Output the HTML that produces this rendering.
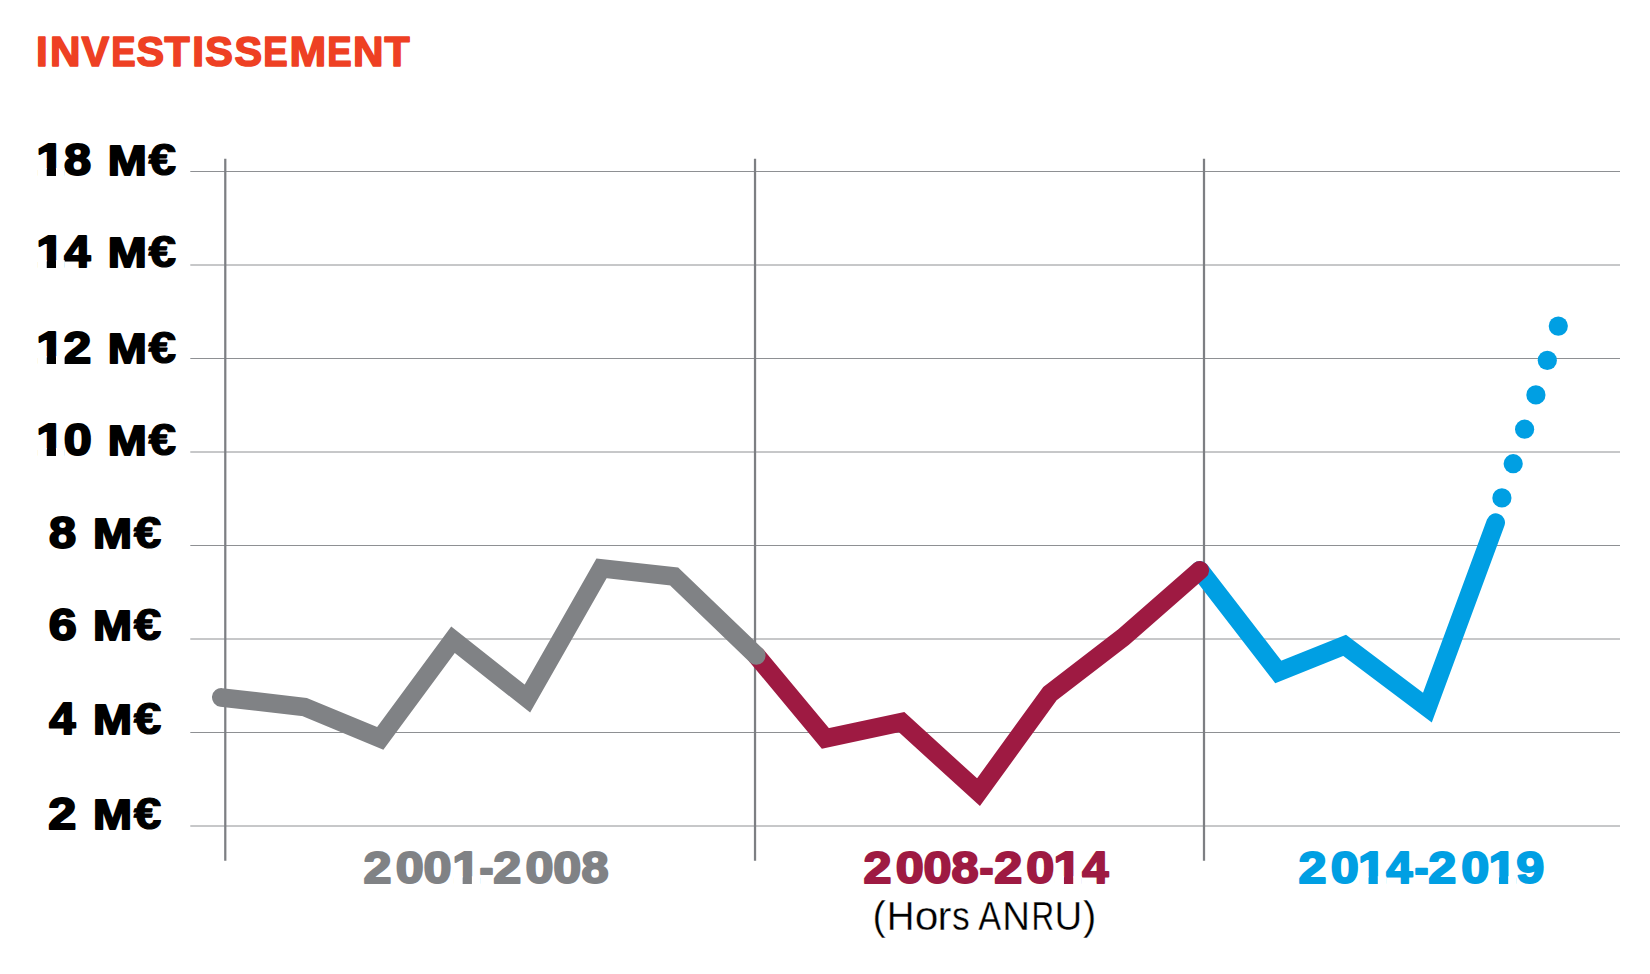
<!DOCTYPE html>
<html lang="fr">
<head>
<meta charset="utf-8">
<title>Investissement</title>
<style>
html,body{margin:0;padding:0;background:#fff;}
body{width:1650px;height:974px;overflow:hidden;font-family:"Liberation Sans",sans-serif;}
svg{display:block;}
text{font-family:"Liberation Sans",sans-serif;}
</style>
</head>
<body>
<svg width="1650" height="974" viewBox="0 0 1650 974">
<rect width="1650" height="974" fill="#ffffff"/>
<g stroke="#8e9093" stroke-width="1">
<line x1="190.3" y1="171.50" x2="1620" y2="171.50"/>
<line x1="190.3" y1="265.00" x2="1620" y2="265.00"/>
<line x1="190.3" y1="358.50" x2="1620" y2="358.50"/>
<line x1="190.3" y1="452.00" x2="1620" y2="452.00"/>
<line x1="190.3" y1="545.50" x2="1620" y2="545.50"/>
<line x1="190.3" y1="639.00" x2="1620" y2="639.00"/>
<line x1="190.3" y1="732.50" x2="1620" y2="732.50"/>
<line x1="190.3" y1="826.00" x2="1620" y2="826.00"/>
</g>
<g stroke="#7d7f83" stroke-width="2.25">
<line x1="225.28" y1="158.8" x2="225.28" y2="860.8"/>
<line x1="755.03" y1="158.8" x2="755.03" y2="860.8"/>
<line x1="1204.0" y1="158.8" x2="1204.0" y2="860.8"/>
</g>
<text transform="translate(0,66.15) scale(1.0,1)" x="36.08 50.00 81.53 111.25 136.38 164.47 192.22 205.32 234.38 263.20 289.50 327.25 353.00 384.38" y="0" font-size="42.2" font-weight="bold" fill="#ee4023" stroke="#ee4023" stroke-width="1.6" stroke-linejoin="round">IN<tspan textLength="27.66" lengthAdjust="spacingAndGlyphs">V</tspan><tspan textLength="24.37" lengthAdjust="spacingAndGlyphs">E</tspan><tspan textLength="27.63" lengthAdjust="spacingAndGlyphs">S</tspan><tspan textLength="25.16" lengthAdjust="spacingAndGlyphs">T</tspan>I<tspan textLength="27.63" lengthAdjust="spacingAndGlyphs">S</tspan><tspan textLength="27.63" lengthAdjust="spacingAndGlyphs">S</tspan><tspan textLength="24.37" lengthAdjust="spacingAndGlyphs">E</tspan><tspan textLength="36.70" lengthAdjust="spacingAndGlyphs">M</tspan><tspan textLength="24.37" lengthAdjust="spacingAndGlyphs">E</tspan>N<tspan textLength="25.16" lengthAdjust="spacingAndGlyphs">T</tspan></text>
<text transform="translate(0,174.90) scale(1.145,1)" x="31.66 55.79" y="0" font-size="44.0" font-weight="bold" fill="#000" stroke="#000" stroke-width="2.0" stroke-linejoin="round">1<tspan textLength="23.66" lengthAdjust="spacingAndGlyphs">8</tspan></text>
<text transform="translate(0,174.60) scale(1.08,1)" x="99.86 137.59" y="0" font-size="43.4" font-weight="bold" fill="#000" stroke="#000" stroke-width="2.0" stroke-linejoin="round">M<tspan font-size="44.8" stroke-width="1.2" textLength="25.59" lengthAdjust="spacingAndGlyphs">€</tspan></text>
<text transform="translate(0,266.90) scale(1.145,1)" x="31.66 56.09" y="0" font-size="44.0" font-weight="bold" fill="#000" stroke="#000" stroke-width="2.0" stroke-linejoin="round">1<tspan textLength="22.87" lengthAdjust="spacingAndGlyphs">4</tspan></text>
<text transform="translate(0,266.60) scale(1.08,1)" x="99.86 137.59" y="0" font-size="43.4" font-weight="bold" fill="#000" stroke="#000" stroke-width="2.0" stroke-linejoin="round">M<tspan font-size="44.8" stroke-width="1.2" textLength="25.59" lengthAdjust="spacingAndGlyphs">€</tspan></text>
<text transform="translate(0,362.90) scale(1.145,1)" x="31.66 55.22" y="0" font-size="44.0" font-weight="bold" fill="#000" stroke="#000" stroke-width="2.0" stroke-linejoin="round">12</text>
<text transform="translate(0,362.60) scale(1.08,1)" x="99.86 137.59" y="0" font-size="43.4" font-weight="bold" fill="#000" stroke="#000" stroke-width="2.0" stroke-linejoin="round">M<tspan font-size="44.8" stroke-width="1.2" textLength="25.59" lengthAdjust="spacingAndGlyphs">€</tspan></text>
<text transform="translate(0,454.90) scale(1.145,1)" x="31.66 55.57" y="0" font-size="44.0" font-weight="bold" fill="#000" stroke="#000" stroke-width="2.0" stroke-linejoin="round">10</text>
<text transform="translate(0,454.60) scale(1.08,1)" x="99.86 137.59" y="0" font-size="43.4" font-weight="bold" fill="#000" stroke="#000" stroke-width="2.0" stroke-linejoin="round">M<tspan font-size="44.8" stroke-width="1.2" textLength="25.59" lengthAdjust="spacingAndGlyphs">€</tspan></text>
<text transform="translate(0,548.00) scale(1.145,1)" x="42.82" y="0" font-size="44.0" font-weight="bold" fill="#000" stroke="#000" stroke-width="2.0" stroke-linejoin="round"><tspan textLength="23.66" lengthAdjust="spacingAndGlyphs">8</tspan></text>
<text transform="translate(0,547.70) scale(1.08,1)" x="86.06 123.84" y="0" font-size="43.4" font-weight="bold" fill="#000" stroke="#000" stroke-width="2.0" stroke-linejoin="round">M<tspan font-size="44.8" stroke-width="1.2" textLength="25.59" lengthAdjust="spacingAndGlyphs">€</tspan></text>
<text transform="translate(0,640.00) scale(1.145,1)" x="42.49" y="0" font-size="44.0" font-weight="bold" fill="#000" stroke="#000" stroke-width="2.0" stroke-linejoin="round">6</text>
<text transform="translate(0,639.70) scale(1.08,1)" x="86.06 123.84" y="0" font-size="43.4" font-weight="bold" fill="#000" stroke="#000" stroke-width="2.0" stroke-linejoin="round">M<tspan font-size="44.8" stroke-width="1.2" textLength="25.59" lengthAdjust="spacingAndGlyphs">€</tspan></text>
<text transform="translate(0,734.00) scale(1.145,1)" x="42.99" y="0" font-size="44.0" font-weight="bold" fill="#000" stroke="#000" stroke-width="2.0" stroke-linejoin="round"><tspan textLength="22.87" lengthAdjust="spacingAndGlyphs">4</tspan></text>
<text transform="translate(0,733.70) scale(1.08,1)" x="86.06 123.84" y="0" font-size="43.4" font-weight="bold" fill="#000" stroke="#000" stroke-width="2.0" stroke-linejoin="round">M<tspan font-size="44.8" stroke-width="1.2" textLength="25.59" lengthAdjust="spacingAndGlyphs">€</tspan></text>
<text transform="translate(0,828.90) scale(1.145,1)" x="42.21" y="0" font-size="44.0" font-weight="bold" fill="#000" stroke="#000" stroke-width="2.0" stroke-linejoin="round">2</text>
<text transform="translate(0,828.60) scale(1.08,1)" x="86.06 123.84" y="0" font-size="43.4" font-weight="bold" fill="#000" stroke="#000" stroke-width="2.0" stroke-linejoin="round">M<tspan font-size="44.8" stroke-width="1.2" textLength="25.59" lengthAdjust="spacingAndGlyphs">€</tspan></text>
<g fill="none" stroke-width="18.6" stroke-linecap="round" stroke-linejoin="miter" stroke-miterlimit="10">
<path d="M1199.8 570.3 L1278.3 671.9 L1344.6 645.3 L1427.4 707.6 L1495.7 522.6" stroke="#009fe3"/>
<path d="M756.3 655.5 L825.4 738.4 L901.6 722.2 L978.5 792.2 L1050 693.5 L1123 637.5 L1199.8 570.3" stroke="#9e1a42"/>
<path d="M221.3 697.4 L304.5 707 L380.2 738.4 L453 639.8 L527.4 698.6 L601.5 568.3 L674 576.4 L756.3 655.5" stroke="#808285"/>
</g>
<g fill="#009fe3">
<circle cx="1501.9" cy="497.9" r="9.6"/>
<circle cx="1513.2" cy="463.7" r="9.6"/>
<circle cx="1524.6" cy="429.2" r="9.6"/>
<circle cx="1535.9" cy="394.9" r="9.6"/>
<circle cx="1547.3" cy="360.4" r="9.6"/>
<circle cx="1558.3" cy="326.1" r="9.6"/>
</g>
<text transform="translate(0,883.10) scale(1.145,1)" x="317.40 345.57 369.98 394.89 418.73 430.90 458.97 483.21 507.88" y="0" font-size="44.0" font-weight="bold" fill="#808285" stroke="#808285" stroke-width="2.0" stroke-linejoin="round">2001<tspan textLength="12.22" lengthAdjust="spacingAndGlyphs">-</tspan>200<tspan textLength="23.66" lengthAdjust="spacingAndGlyphs">8</tspan></text>
<text transform="translate(0,883.10) scale(1.145,1)" x="754.08 782.25 806.66 831.03 855.41 868.28 896.31 920.04 945.26" y="0" font-size="44.0" font-weight="bold" fill="#9e1a42" stroke="#9e1a42" stroke-width="2.0" stroke-linejoin="round">200<tspan textLength="23.66" lengthAdjust="spacingAndGlyphs">8</tspan><tspan textLength="12.22" lengthAdjust="spacingAndGlyphs">-</tspan>201<tspan textLength="22.87" lengthAdjust="spacingAndGlyphs">4</tspan></text>
<text transform="translate(0,883.10) scale(1.145,1)" x="1134.00 1162.16 1186.07 1210.81 1235.33 1247.49 1276.22 1299.96 1324.26" y="0" font-size="44.0" font-weight="bold" fill="#009fe3" stroke="#009fe3" stroke-width="2.0" stroke-linejoin="round">201<tspan textLength="22.87" lengthAdjust="spacingAndGlyphs">4</tspan><tspan textLength="12.22" lengthAdjust="spacingAndGlyphs">-</tspan>2019</text>
<g fill="#ffffff">
<rect x="37.65" y="168.10" width="9.10" height="8.40"/><rect x="56.00" y="168.10" width="8.60" height="8.40"/>
<rect x="37.65" y="260.10" width="9.10" height="8.40"/><rect x="56.00" y="260.10" width="8.60" height="8.40"/>
<rect x="37.65" y="356.10" width="9.10" height="8.40"/><rect x="56.00" y="356.10" width="8.60" height="8.40"/>
<rect x="37.65" y="448.10" width="9.10" height="8.40"/><rect x="56.00" y="448.10" width="8.60" height="8.40"/>
<rect x="453.55" y="876.30" width="9.10" height="8.40"/><rect x="471.90" y="876.30" width="8.60" height="8.40"/>
<rect x="1054.85" y="876.30" width="9.10" height="8.40"/><rect x="1073.20" y="876.30" width="8.60" height="8.40"/>
<rect x="1359.45" y="876.30" width="9.10" height="8.40"/><rect x="1377.80" y="876.30" width="8.60" height="8.40"/>
<rect x="1489.85" y="876.30" width="9.10" height="8.40"/><rect x="1508.20" y="876.30" width="8.60" height="8.40"/>
</g>
<text transform="translate(0,929.80) scale(0.96,1)" x="908.75 923.72 952.84 976.61 991.56 991.56 1019.14 1043.93 1074.53 1098.46 1128.07" y="0" font-size="40" font-weight="normal" fill="#000" stroke="#fff" stroke-width="0.35"><tspan textLength="13.86" lengthAdjust="spacingAndGlyphs">(</tspan>H<tspan textLength="24.68" lengthAdjust="spacingAndGlyphs">o</tspan><tspan textLength="14.53" lengthAdjust="spacingAndGlyphs">r</tspan><tspan textLength="18.47" lengthAdjust="spacingAndGlyphs">s</tspan> <tspan textLength="23.82" lengthAdjust="spacingAndGlyphs">A</tspan>N<tspan textLength="23.57" lengthAdjust="spacingAndGlyphs">R</tspan>U<tspan textLength="13.86" lengthAdjust="spacingAndGlyphs">)</tspan></text>
</svg>
</body>
</html>
